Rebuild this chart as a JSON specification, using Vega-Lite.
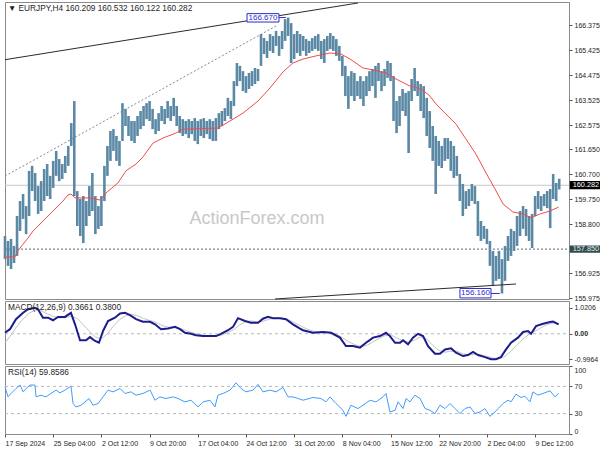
{
"$schema":"https://vega.github.io/schema/vega-lite/v6.json",
"padding":0,
"background":"white",
"spacing":2,
"bounds":"flush",
"config":{"view":{"stroke":"#8a8a8a","strokeWidth":1},"font":"Liberation Sans",
"axis":{"labelFont":"Liberation Sans","labelFontSize":7,"labelColor":"#1e1e1e","tickColor":"#555555","domain":false,"grid":false,"tickSize":3,"labelPadding":2}},
"resolve":{"scale":{"x":"independent","y":"independent"}},
"datasets":{
"bars":[
{"t":0,"p":157.47,"p2":158.35},{"t":2,"p":157.21,"p2":158.16},{"t":4,"p":157.09,"p2":158.24},{"t":6,"p":157.32,"p2":157.97},{"t":8,"p":157.59,"p2":159.11},{"t":10,"p":158.54,"p2":159.68},{"t":12,"p":159.00,"p2":159.95},{"t":14,"p":158.42,"p2":159.49},{"t":16,"p":159.11,"p2":160.83},{"t":18,"p":160.06,"p2":161.02},
{"t":20,"p":159.68,"p2":160.75},{"t":22,"p":159.19,"p2":160.25},{"t":24,"p":159.30,"p2":160.44},{"t":26,"p":159.68,"p2":160.90},{"t":28,"p":159.87,"p2":161.09},{"t":30,"p":159.76,"p2":160.64},{"t":32,"p":160.18,"p2":161.21},{"t":34,"p":160.64,"p2":161.59},{"t":36,"p":160.44,"p2":161.28},{"t":38,"p":160.52,"p2":161.09},
{"t":40,"p":160.75,"p2":161.40},{"t":42,"p":161.02,"p2":161.78},{"t":44,"p":161.78,"p2":162.65},{"t":46,"p":159.87,"p2":163.49},{"t":48,"p":158.73,"p2":160.06},{"t":50,"p":158.35,"p2":159.76},{"t":52,"p":158.08,"p2":159.87},{"t":54,"p":158.73,"p2":159.68},{"t":56,"p":159.11,"p2":160.25},{"t":58,"p":159.30,"p2":160.75},
{"t":60,"p":158.42,"p2":159.87},{"t":62,"p":158.62,"p2":159.49},{"t":64,"p":158.73,"p2":159.87},{"t":66,"p":159.68,"p2":161.02},{"t":68,"p":160.64,"p2":161.78},{"t":70,"p":161.21,"p2":162.35},{"t":72,"p":161.59,"p2":162.42},{"t":74,"p":161.21,"p2":162.16},{"t":76,"p":161.02,"p2":161.97},{"t":78,"p":161.97,"p2":163.41},
{"t":80,"p":162.54,"p2":163.19},{"t":82,"p":162.16,"p2":162.92},{"t":84,"p":161.97,"p2":162.73},{"t":86,"p":161.89,"p2":162.73},{"t":88,"p":162.16,"p2":162.92},{"t":90,"p":162.42,"p2":163.11},{"t":92,"p":162.54,"p2":163.30},{"t":94,"p":162.80,"p2":163.41},{"t":96,"p":162.73,"p2":163.49},{"t":98,"p":162.42,"p2":163.19},
{"t":100,"p":162.23,"p2":162.80},{"t":102,"p":162.35,"p2":163.03},{"t":104,"p":162.73,"p2":163.30},{"t":106,"p":162.61,"p2":163.19},{"t":108,"p":162.84,"p2":163.49},{"t":110,"p":162.73,"p2":163.30},{"t":112,"p":162.92,"p2":163.61},{"t":114,"p":162.54,"p2":163.30},{"t":116,"p":162.27,"p2":162.92},{"t":118,"p":162.16,"p2":162.80},
{"t":120,"p":162.23,"p2":162.73},{"t":122,"p":162.08,"p2":162.80},{"t":124,"p":162.23,"p2":162.73},{"t":126,"p":161.97,"p2":162.84},{"t":128,"p":161.85,"p2":162.73},{"t":130,"p":162.16,"p2":162.80},{"t":132,"p":162.08,"p2":162.84},{"t":134,"p":162.23,"p2":162.73},{"t":136,"p":162.04,"p2":162.80},{"t":138,"p":161.97,"p2":162.73},
{"t":140,"p":161.97,"p2":162.84},{"t":142,"p":162.42,"p2":163.03},{"t":144,"p":162.54,"p2":163.11},{"t":146,"p":162.73,"p2":163.22},{"t":148,"p":162.92,"p2":163.61},{"t":150,"p":162.80,"p2":163.49},{"t":152,"p":163.30,"p2":164.25},{"t":154,"p":164.06,"p2":164.94},{"t":156,"p":164.25,"p2":164.83},{"t":158,"p":163.87,"p2":164.63},
{"t":160,"p":163.80,"p2":164.44},{"t":162,"p":163.95,"p2":164.56},{"t":164,"p":164.06,"p2":164.63},{"t":166,"p":164.14,"p2":164.75},{"t":168,"p":164.25,"p2":164.71},{"t":170,"p":164.83,"p2":166.04},{"t":172,"p":165.28,"p2":165.89},{"t":174,"p":165.13,"p2":165.78},{"t":176,"p":165.40,"p2":166.04},{"t":178,"p":165.32,"p2":165.97},
{"t":180,"p":165.59,"p2":166.16},{"t":182,"p":165.21,"p2":165.97},{"t":184,"p":165.47,"p2":166.16},{"t":186,"p":165.78,"p2":166.61},{"t":188,"p":165.97,"p2":166.67},{"t":190,"p":164.94,"p2":166.46},{"t":192,"p":165.09,"p2":166.04},{"t":194,"p":165.32,"p2":166.16},{"t":196,"p":165.21,"p2":166.04},{"t":198,"p":165.40,"p2":165.97},
{"t":200,"p":165.21,"p2":165.85},{"t":202,"p":165.32,"p2":165.78},{"t":204,"p":165.40,"p2":165.89},{"t":206,"p":165.47,"p2":165.97},{"t":208,"p":165.40,"p2":166.04},{"t":210,"p":165.09,"p2":165.78},{"t":212,"p":164.94,"p2":165.85},{"t":214,"p":165.40,"p2":165.97},{"t":216,"p":165.47,"p2":166.08},{"t":218,"p":165.40,"p2":165.97},
{"t":220,"p":165.21,"p2":165.85},{"t":222,"p":165.02,"p2":165.59},{"t":224,"p":164.44,"p2":165.21},{"t":226,"p":163.68,"p2":164.83},{"t":228,"p":163.19,"p2":164.44},{"t":230,"p":163.68,"p2":164.63},{"t":232,"p":163.49,"p2":164.56},{"t":234,"p":163.68,"p2":164.25},{"t":236,"p":163.57,"p2":164.44},{"t":238,"p":163.30,"p2":164.25},
{"t":240,"p":163.68,"p2":164.44},{"t":242,"p":163.87,"p2":164.63},{"t":244,"p":164.06,"p2":164.71},{"t":246,"p":163.61,"p2":164.83},{"t":248,"p":164.25,"p2":164.94},{"t":250,"p":163.87,"p2":164.63},{"t":252,"p":164.06,"p2":164.71},{"t":254,"p":164.37,"p2":165.02},{"t":256,"p":164.25,"p2":164.94},{"t":258,"p":162.73,"p2":164.44},
{"t":260,"p":162.27,"p2":163.49},{"t":262,"p":162.54,"p2":163.68},{"t":264,"p":163.11,"p2":163.95},{"t":266,"p":162.92,"p2":163.80},{"t":268,"p":161.51,"p2":163.87},{"t":270,"p":163.49,"p2":164.33},{"t":272,"p":163.87,"p2":164.75},{"t":274,"p":163.68,"p2":164.25},{"t":276,"p":163.11,"p2":164.14},{"t":278,"p":162.84,"p2":164.06},
{"t":280,"p":162.16,"p2":163.61},{"t":282,"p":161.70,"p2":163.11},{"t":284,"p":161.21,"p2":162.54},{"t":286,"p":159.95,"p2":162.16},{"t":288,"p":161.02,"p2":161.97},{"t":290,"p":160.94,"p2":161.78},{"t":292,"p":161.21,"p2":162.08},{"t":294,"p":161.28,"p2":162.08},{"t":296,"p":160.83,"p2":161.97},{"t":298,"p":160.56,"p2":161.78},
{"t":300,"p":160.64,"p2":161.40},{"t":302,"p":159.68,"p2":160.71},{"t":304,"p":159.11,"p2":160.33},{"t":306,"p":159.38,"p2":160.06},{"t":308,"p":159.49,"p2":160.14},{"t":310,"p":159.68,"p2":160.33},{"t":312,"p":159.57,"p2":160.25},{"t":314,"p":158.35,"p2":159.68},{"t":316,"p":158.16,"p2":158.92},{"t":318,"p":158.24,"p2":158.73},
{"t":320,"p":158.04,"p2":158.62},{"t":322,"p":157.21,"p2":158.16},{"t":324,"p":156.45,"p2":157.78},{"t":326,"p":156.64,"p2":157.59},{"t":328,"p":156.71,"p2":157.78},{"t":330,"p":156.16,"p2":157.47},{"t":332,"p":156.64,"p2":157.97},{"t":334,"p":157.40,"p2":158.35},{"t":336,"p":157.59,"p2":158.62},{"t":338,"p":157.78,"p2":158.54},
{"t":340,"p":157.97,"p2":159.11},{"t":342,"p":158.35,"p2":159.30},{"t":344,"p":158.62,"p2":159.49},{"t":346,"p":158.35,"p2":159.38},{"t":348,"p":158.16,"p2":159.11},{"t":350,"p":157.89,"p2":159.19},{"t":352,"p":159.11,"p2":159.87},{"t":354,"p":159.38,"p2":160.06},{"t":356,"p":159.30,"p2":159.87},{"t":358,"p":159.49,"p2":159.95},
{"t":360,"p":159.41,"p2":160.06},{"t":362,"p":158.65,"p2":160.14},{"t":364,"p":159.76,"p2":160.71},{"t":366,"p":159.68,"p2":160.37},{"t":368,"p":160.122,"p2":160.532}
],
"ma":[
{"t":0,"p":157.55},{"t":6.6,"p":157.55},{"t":8.6,"p":157.78},{"t":12,"p":158.04},{"t":15.3,"p":158.27},{"t":18.6,"p":158.54},{"t":22,"p":158.73},{"t":25.2,"p":158.92},{"t":28.6,"p":159.11},{"t":31.9,"p":159.30},{"t":35.2,"p":159.49},{"t":38.5,"p":159.68},{"t":41.8,"p":159.91},{"t":43.8,"p":159.95},{"t":46.5,"p":159.80},{"t":50.5,"p":159.80},{"t":56.4,"p":159.80},{"t":63.1,"p":159.72},{"t":67.1,"p":159.99},{"t":75,"p":160.37},{"t":80.3,"p":160.83},{"t":87,"p":161.09},{"t":91.6,"p":161.36},{"t":98.3,"p":161.89},{"t":104.9,"p":162.08},{"t":113.5,"p":162.27},{"t":118.2,"p":162.42},{"t":141.4,"p":162.46},{"t":149.4,"p":162.73},{"t":158,"p":163.03},{"t":168,"p":163.49},{"t":176,"p":163.99},{"t":184.6,"p":164.60},{"t":191.2,"p":164.94},{"t":197.9,"p":165.09},{"t":206.5,"p":165.21},{"t":215.8,"p":165.32},{"t":223.1,"p":165.28},{"t":229.1,"p":165.09},{"t":237.7,"p":164.75},{"t":244.4,"p":164.67},{"t":253,"p":164.56},{"t":259.6,"p":164.33},{"t":268.9,"p":164.06},{"t":276.2,"p":163.95},{"t":281.5,"p":163.72},{"t":286.2,"p":163.38},{"t":292.8,"p":162.99},{"t":299.5,"p":162.61},{"t":306.1,"p":162.04},{"t":312.7,"p":161.47},{"t":319.4,"p":160.75},{"t":325.4,"p":160.14},{"t":330.7,"p":159.57},{"t":337.3,"p":159.26},{"t":344,"p":159.19},{"t":349.3,"p":159.04},{"t":355.3,"p":159.19},{"t":361.9,"p":159.30},{"t":367.6,"p":159.45}
],
"trend":[
{"id":"upper","t":0,"p":165.065},{"id":"upper","t":234.4,"p":167.225},
{"id":"lower","t":179.3,"p":155.95},{"id":"lower","t":339.3,"p":156.52},
{"id":"channel","t":0,"p":160.634},{"id":"channel","t":180,"p":166.35}
],
"levels":[{"id":"last","t":0,"t2":374.5,"p":160.282},{"id":"support","t":0,"t2":374.5,"p":157.85}],
"tagboxes":[
{"id":"high","t":160.7,"t2":181.9,"p":166.50,"p2":166.82},
{"id":"low","t":302.1,"t2":322.7,"p":155.99,"p2":156.35},
{"id":"last","t":375,"t2":396.4,"p":160.13,"p2":160.44},
{"id":"support","t":375,"t2":396.4,"p":157.71,"p2":157.99}
],
"tagtexts":[
{"id":"high","t":171.3,"p":166.66,"label":"166.670"},
{"id":"low","t":312.4,"p":156.17,"label":"156.160"},
{"id":"last","t":385.7,"p":160.282,"label":"160.282"},
{"id":"support","t":385.7,"p":157.85,"label":"157.850"}
],
"connectors":[{"t":181.9,"t2":186.5,"p":166.67},{"t":322.7,"t2":328.5,"p":156.16}],
"notes":[{"id":"title","t":2,"p":167.0,"label":"▼ EURJPY,H4  160.209 160.532 160.122 160.282"},{"id":"mark","t":167.3,"p":158.99,"label":"ActionForex.com"}],
"macd":[
{"t":0,"v":0.04},{"t":3.3,"v":0.18},{"t":7.3,"v":0.57},{"t":12,"v":0.82},{"t":15.3,"v":0.96},{"t":19.9,"v":1.02},{"t":21.9,"v":0.96},{"t":25.2,"v":0.63},{"t":28.6,"v":0.63},{"t":31.9,"v":0.53},{"t":35.2,"v":0.66},{"t":39.8,"v":0.66},{"t":43.8,"v":0.82},{"t":46.5,"v":0.37},{"t":49.8,"v":-0.25},{"t":53.8,"v":-0.25},{"t":56.4,"v":-0.13},{"t":59.8,"v":-0.28},{"t":62.4,"v":-0.35},{"t":65.1,"v":0.11},{"t":68.4,"v":0.50},{"t":73,"v":0.63},{"t":76.4,"v":0.79},{"t":79.7,"v":0.82},{"t":83,"v":0.73},{"t":87,"v":0.57},{"t":91.6,"v":0.47},{"t":96.3,"v":0.47},{"t":99.6,"v":0.37},{"t":103.6,"v":0.18},{"t":108.2,"v":0.21},{"t":112.9,"v":0.27},{"t":116.2,"v":0.18},{"t":119.5,"v":0.04},{"t":123.5,"v":0.0},{"t":126.8,"v":-0.06},{"t":131.5,"v":-0.09},{"t":136.8,"v":-0.09},{"t":140.1,"v":-0.09},{"t":143.4,"v":0.0},{"t":148.1,"v":0.14},{"t":151.4,"v":0.27},{"t":154.7,"v":0.61},{"t":159.4,"v":0.50},{"t":163.3,"v":0.43},{"t":168,"v":0.43},{"t":171.3,"v":0.59},{"t":174.6,"v":0.66},{"t":178,"v":0.61},{"t":182.6,"v":0.61},{"t":186.6,"v":0.57},{"t":191.2,"v":0.37},{"t":195.9,"v":0.20},{"t":197.9,"v":0.14},{"t":204.5,"v":0.04},{"t":211.2,"v":0.07},{"t":216.5,"v":0.04},{"t":222.4,"v":-0.15},{"t":226.4,"v":-0.48},{"t":231.1,"v":-0.48},{"t":235.7,"v":-0.54},{"t":239.7,"v":-0.35},{"t":244.4,"v":-0.15},{"t":249,"v":-0.09},{"t":253,"v":0.04},{"t":255.6,"v":-0.09},{"t":259,"v":-0.35},{"t":262.3,"v":-0.35},{"t":264.3,"v":-0.25},{"t":267.6,"v":-0.41},{"t":270.9,"v":-0.15},{"t":274.2,"v":0.0},{"t":277.6,"v":-0.09},{"t":280.9,"v":-0.48},{"t":285.5,"v":-0.78},{"t":288.8,"v":-0.78},{"t":292.2,"v":-0.61},{"t":296.2,"v":-0.57},{"t":299.5,"v":-0.74},{"t":304.1,"v":-0.87},{"t":307.4,"v":-0.83},{"t":310.8,"v":-0.71},{"t":314.1,"v":-0.83},{"t":318.7,"v":-0.91},{"t":322.7,"v":-0.9964},{"t":326,"v":-0.99},{"t":329.3,"v":-0.91},{"t":332.7,"v":-0.61},{"t":336,"v":-0.35},{"t":340.6,"v":-0.15},{"t":344,"v":0.07},{"t":347.3,"v":0.11},{"t":349.3,"v":0.0},{"t":352.6,"v":0.30},{"t":357.3,"v":0.39},{"t":361.9,"v":0.46},{"t":363.9,"v":0.48},{"t":367.6,"v":0.3661}
],
"signal":[
{"t":0,"v":-0.35},{"t":4,"v":-0.05},{"t":8,"v":0.30},{"t":12,"v":0.58},{"t":16,"v":0.80},{"t":20,"v":0.93},{"t":24,"v":0.90},{"t":28,"v":0.78},{"t":32,"v":0.68},{"t":36,"v":0.62},{"t":40,"v":0.63},{"t":44,"v":0.68},{"t":48,"v":0.60},{"t":52,"v":0.35},{"t":56,"v":0.10},{"t":60,"v":-0.12},{"t":64,"v":-0.20},{"t":68,"v":0.0},{"t":72,"v":0.30},{"t":76,"v":0.55},{"t":80,"v":0.70},{"t":84,"v":0.76},{"t":88,"v":0.70},{"t":92,"v":0.60},{"t":96,"v":0.52},{"t":100,"v":0.45},{"t":104,"v":0.33},{"t":108,"v":0.26},{"t":112,"v":0.24},{"t":116,"v":0.22},{"t":120,"v":0.13},{"t":124,"v":0.05},{"t":128,"v":-0.02},{"t":132,"v":-0.06},{"t":136,"v":-0.08},{"t":140,"v":-0.09},{"t":144,"v":-0.05},{"t":148,"v":0.05},{"t":152,"v":0.17},{"t":156,"v":0.35},{"t":160,"v":0.48},{"t":164,"v":0.50},{"t":168,"v":0.46},{"t":172,"v":0.50},{"t":176,"v":0.58},{"t":180,"v":0.62},{"t":184,"v":0.61},{"t":188,"v":0.55},{"t":192,"v":0.44},{"t":196,"v":0.32},{"t":200,"v":0.20},{"t":204,"v":0.11},{"t":208,"v":0.07},{"t":212,"v":0.06},{"t":216,"v":0.05},{"t":220,"v":-0.02},{"t":224,"v":-0.15},{"t":228,"v":-0.30},{"t":232,"v":-0.42},{"t":236,"v":-0.49},{"t":240,"v":-0.46},{"t":244,"v":-0.33},{"t":248,"v":-0.20},{"t":252,"v":-0.08},{"t":256,"v":-0.04},{"t":260,"v":-0.15},{"t":264,"v":-0.27},{"t":268,"v":-0.33},{"t":272,"v":-0.25},{"t":276,"v":-0.12},{"t":280,"v":-0.20},{"t":284,"v":-0.45},{"t":288,"v":-0.65},{"t":292,"v":-0.72},{"t":296,"v":-0.68},{"t":300,"v":-0.68},{"t":304,"v":-0.78},{"t":308,"v":-0.83},{"t":312,"v":-0.80},{"t":316,"v":-0.82},{"t":320,"v":-0.88},{"t":324,"v":-0.95},{"t":328,"v":-0.98},{"t":332,"v":-0.88},{"t":336,"v":-0.68},{"t":340,"v":-0.43},{"t":344,"v":-0.20},{"t":348,"v":-0.02},{"t":352,"v":0.10},{"t":356,"v":0.24},{"t":360,"v":0.36},{"t":364,"v":0.42},{"t":367.6,"v":0.38}
],
"macdlevels":[{"t":0,"t2":374.5,"v":0}],
"macdnote":[{"t":2,"v":1.02,"label":"MACD(12,26,9) 0.3661 0.3800"}],
"rsi":[
{"t":0,"v":69.4},{"t":2,"v":54.6},{"t":4,"v":59.6},{"t":7.3,"v":67},{"t":10,"v":72},{"t":12,"v":62},{"t":14,"v":67},{"t":16.6,"v":72},{"t":19.9,"v":72},{"t":20.6,"v":54.6},{"t":23.9,"v":57},{"t":27.2,"v":54.6},{"t":30.5,"v":59.6},{"t":33.9,"v":64.5},{"t":36.5,"v":60.5},{"t":39.8,"v":64.5},{"t":43.8,"v":70.4},{"t":45.2,"v":44.8},{"t":47.1,"v":39.8},{"t":50.5,"v":42.3},{"t":53.1,"v":47.2},{"t":55.8,"v":52.2},{"t":58.4,"v":42.3},{"t":61.8,"v":44.8},{"t":65.1,"v":54.6},{"t":68.4,"v":64.5},{"t":71.7,"v":62},{"t":76.4,"v":67},{"t":79.7,"v":59.6},{"t":83.7,"v":62},{"t":87,"v":57.1},{"t":91.6,"v":59.6},{"t":96.3,"v":64.5},{"t":99.6,"v":49.7},{"t":102.9,"v":54.6},{"t":106.9,"v":52.2},{"t":111.6,"v":54.6},{"t":114.9,"v":52.2},{"t":119.5,"v":47.2},{"t":123.5,"v":49.7},{"t":128.2,"v":39.8},{"t":131.5,"v":47.2},{"t":136.1,"v":49.7},{"t":139.4,"v":39.8},{"t":141.4,"v":57.1},{"t":144.8,"v":59.6},{"t":149.4,"v":64.5},{"t":153.4,"v":75.3},{"t":156.7,"v":67},{"t":160,"v":62},{"t":164.7,"v":64.5},{"t":168,"v":73},{"t":171.3,"v":62},{"t":176,"v":64.5},{"t":180,"v":62},{"t":184.6,"v":68.5},{"t":187.9,"v":54.6},{"t":191.2,"v":54.6},{"t":194.6,"v":52.2},{"t":197.9,"v":49.7},{"t":204.5,"v":53.7},{"t":209.8,"v":52.2},{"t":213.1,"v":47.2},{"t":215.8,"v":54.6},{"t":219.8,"v":44.8},{"t":224.4,"v":34.9},{"t":226.4,"v":26},{"t":229.7,"v":42.3},{"t":234.4,"v":37.4},{"t":237.7,"v":42.3},{"t":242.4,"v":49.7},{"t":246.3,"v":47.2},{"t":251,"v":54.6},{"t":253,"v":59.6},{"t":255.6,"v":32.4},{"t":259,"v":34.9},{"t":261,"v":47.2},{"t":264.3,"v":37.4},{"t":266.3,"v":52.2},{"t":268.9,"v":47.2},{"t":272.2,"v":57.1},{"t":275.6,"v":52.2},{"t":278.9,"v":37.4},{"t":282.2,"v":34.9},{"t":285.5,"v":30},{"t":288.8,"v":42.3},{"t":292.2,"v":37.4},{"t":295.5,"v":44.8},{"t":298.8,"v":37.4},{"t":302.1,"v":30},{"t":305.4,"v":37.4},{"t":308.8,"v":39.8},{"t":312.1,"v":30},{"t":315.4,"v":32.4},{"t":318.7,"v":37.4},{"t":322,"v":26},{"t":325.4,"v":32.4},{"t":327.4,"v":37.4},{"t":330.7,"v":44.8},{"t":334,"v":49.7},{"t":336,"v":47.2},{"t":339.3,"v":58.6},{"t":342.6,"v":53.7},{"t":345.2,"v":55.6},{"t":348.6,"v":47.2},{"t":350.6,"v":62},{"t":353.9,"v":57.1},{"t":357.2,"v":59.6},{"t":361.9,"v":63.5},{"t":365.2,"v":54.6},{"t":367.6,"v":59.86}
],
"rsilevels":[{"t":0,"t2":374.5,"v":70},{"t":0,"t2":374.5,"v":30}],
"rsinote":[{"t":2,"v":90,"label":"RSI(14) 59.8586"}]
},
"vconcat":[
{
"width":564,"height":297,
"encoding":{
"x":{"field":"t","type":"quantitative","scale":{"domain":[0,374.5],"nice":false,"zero":false},"axis":null},
"y":{"field":"p","type":"quantitative","scale":{"domain":[155.949,167.263],"nice":false,"zero":false},"axis":{"orient":"right","title":null,"values":[155.975,156.925,158.8,159.75,160.7,161.65,162.575,163.525,164.475,165.425,166.375],"format":".3f"}}
},
"layer":[
{"data":{"name":"levels"},"transform":[{"filter":"datum.id=='last'"}],"mark":{"type":"rule","color":"#c8c8c8","strokeWidth":1},"encoding":{"x2":{"field":"t2"}}},
{"data":{"name":"levels"},"transform":[{"filter":"datum.id=='support'"}],"mark":{"type":"rule","color":"#5a6e6e","strokeWidth":1,"strokeDash":[2,2]},"encoding":{"x2":{"field":"t2"}}},
{"data":{"name":"notes"},"transform":[{"filter":"datum.id=='mark'"}],"mark":{"type":"text","color":"#c8c8c8","fontSize":18,"font":"Liberation Sans","align":"center","baseline":"middle"},"encoding":{"text":{"field":"label"}}},
{"data":{"name":"trend"},"transform":[{"filter":"datum.id=='channel'"}],"mark":{"type":"line","color":"#7d8f8f","strokeWidth":1,"strokeDash":[2,2]},"encoding":{}},
{"data":{"name":"bars"},"mark":{"type":"rule","color":"#5a88a5","strokeWidth":2.6},"encoding":{"y2":{"field":"p2"}}},
{"data":{"name":"ma"},"mark":{"type":"line","color":"#f24b4b","strokeWidth":1},"encoding":{}},
{"data":{"name":"trend"},"transform":[{"filter":"datum.id!='channel'"}],"mark":{"type":"line","color":"#2b2b2b","strokeWidth":1},"encoding":{"detail":{"field":"id"}}},
{"data":{"name":"notes"},"transform":[{"filter":"datum.id=='title'"}],"mark":{"type":"text","color":"#1e1e1e","fontSize":8.3,"align":"left","baseline":"middle"},"encoding":{"text":{"field":"label"}}},
{"data":{"name":"connectors"},"mark":{"type":"rule","color":"#2b2bd0","strokeWidth":1},"encoding":{"x2":{"field":"t2"}}},
{"data":{"name":"tagboxes"},"transform":[{"filter":"datum.id=='high'||datum.id=='low'"}],"mark":{"type":"rect","fill":"white","stroke":"#2b2bd0","strokeWidth":1},"encoding":{"x2":{"field":"t2"},"y2":{"field":"p2"}}},
{"data":{"name":"tagtexts"},"transform":[{"filter":"datum.id=='high'||datum.id=='low'"}],"mark":{"type":"text","color":"#2b2bd0","fontSize":8,"align":"center","baseline":"middle"},"encoding":{"text":{"field":"label"}}},
{"data":{"name":"tagboxes"},"transform":[{"filter":"datum.id=='last'"}],"mark":{"type":"rect","fill":"#000000"},"encoding":{"x2":{"field":"t2"},"y2":{"field":"p2"}}},
{"data":{"name":"tagtexts"},"transform":[{"filter":"datum.id=='last'"}],"mark":{"type":"text","color":"#ffffff","fontSize":7.3,"align":"center","baseline":"middle"},"encoding":{"text":{"field":"label"}}},
{"data":{"name":"tagboxes"},"transform":[{"filter":"datum.id=='support'"}],"mark":{"type":"rect","fill":"#2f4d4d"},"encoding":{"x2":{"field":"t2"},"y2":{"field":"p2"}}},
{"data":{"name":"tagtexts"},"transform":[{"filter":"datum.id=='support'"}],"mark":{"type":"text","color":"#e6e6e6","fontSize":7.3,"align":"center","baseline":"middle"},"encoding":{"text":{"field":"label"}}}
]
},
{
"width":564,"height":63,
"encoding":{
"x":{"field":"t","type":"quantitative","scale":{"domain":[0,374.5],"nice":false,"zero":false},"axis":null},
"y":{"field":"v","type":"quantitative","scale":{"domain":[-1.18,1.281],"nice":false,"zero":false},"axis":{"orient":"right","title":null,"values":[1.0206,0,-0.9964],"labelExpr":"datum.value > 0.5 ? '1.0206' : (datum.value < -0.5 ? '-0.9964' : '0.00')","labelFontWeight":{"condition":{"test":"datum.value == 0","value":"bold"},"value":"normal"}}}
},
"layer":[
{"data":{"name":"macdlevels"},"mark":{"type":"rule","color":"#b8b8b8","strokeWidth":1,"strokeDash":[3,3]},"encoding":{"x2":{"field":"t2"}}},
{"data":{"name":"signal"},"mark":{"type":"line","color":"#c4c4c4","strokeWidth":1},"encoding":{}},
{"data":{"name":"macd"},"mark":{"type":"line","color":"#1c1c8c","strokeWidth":2},"encoding":{}},
{"data":{"name":"macdnote"},"mark":{"type":"text","color":"#1e1e1e","fontSize":8.3,"align":"left","baseline":"middle"},"encoding":{"text":{"field":"label"}}}
]
},
{
"width":564,"height":68,
"encoding":{
"x":{"field":"t","type":"quantitative","scale":{"domain":[0,374.5],"nice":false,"zero":false},"axis":{"orient":"bottom","title":null,"values":[0,32,64,96,128,160,192,224,256,288,320,352],"labelExpr":"['17 Sep 2024','25 Sep 04:00','2 Oct 12:00','9 Oct 20:00','17 Oct 04:00','24 Oct 12:00','31 Oct 20:00','8 Nov 04:00','15 Nov 12:00','22 Nov 20:00','2 Dec 04:00','9 Dec 12:00'][round(datum.value/32)]","labelAlign":"left","labelFlush":false,"labelOverlap":false,"labelBound":false}},
"y":{"field":"v","type":"quantitative","scale":{"domain":[0,100],"nice":false,"zero":false},"axis":{"orient":"right","title":null,"values":[0,30,70,100],"labelFlush":true}}
},
"layer":[
{"data":{"name":"rsilevels"},"mark":{"type":"rule","color":"#b8b8b8","strokeWidth":1,"strokeDash":[3,3]},"encoding":{"x2":{"field":"t2"}}},
{"data":{"name":"rsi"},"mark":{"type":"line","color":"#3f9cff","strokeWidth":1},"encoding":{}},
{"data":{"name":"rsinote"},"mark":{"type":"text","color":"#1e1e1e","fontSize":8.3,"align":"left","baseline":"middle"},"encoding":{"text":{"field":"label"}}}
]
}
]
}
